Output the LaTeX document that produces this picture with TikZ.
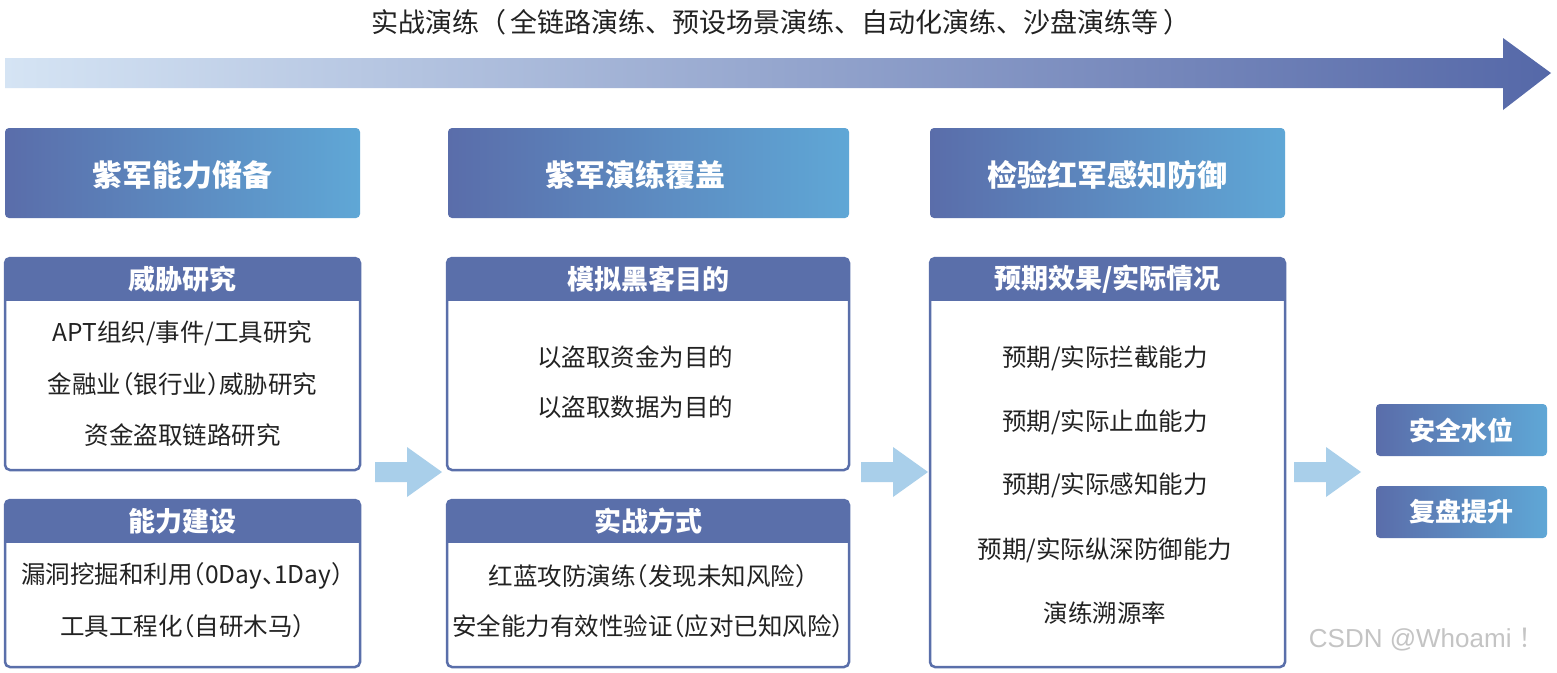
\documentclass[tikz,border=0pt]{standalone}
\usepackage{fontspec}
\setmainfont{Noto Sans CJK SC}
\newfontfamily\libsans{Liberation Sans}
\usetikzlibrary{calc}
\definecolor{hdr}{HTML}{5A6FAA}
\definecolor{gl}{HTML}{5A6DAA}
\definecolor{gr}{HTML}{5FA7D6}
\definecolor{al}{HTML}{D5E4F4}
\definecolor{ar}{HTML}{5568A8}
\definecolor{sa}{HTML}{A9CFEA}
\definecolor{txt}{HTML}{222222}
\definecolor{wm}{HTML}{C4C4C4}
\newcommand{\mypanel}[6]{%
  \begin{scope}
    \clip[rounded corners=5pt] (#1,#2) rectangle (#3,#4);
    \fill[band] (#1,#2) rectangle (#3,#2+43);
  \end{scope}
  \draw[panel] (#1,#2) rectangle (#3,#4);
  \node[bandtxt] (#5) at ({(#1+#3)/2},#2+21) {#6};
}
\begin{document}
\begin{tikzpicture}[x=1pt,y=-1pt,
  title/.style={text=txt,font=\fontsize{27}{30}\selectfont,inner sep=0pt},
  gradbox/.style={rounded corners=4pt,left color=gl,right color=gr,draw=none},
  gradtxt/.style={text=white,font=\fontsize{30}{34}\selectfont\bfseries,inner sep=0pt},
  smalltxt/.style={text=white,font=\fontsize{26}{30}\selectfont\bfseries,inner sep=0pt},
  panel/.style={draw=hdr,line width=2.5pt,rounded corners=5pt},
  band/.style={fill=hdr},
  bandtxt/.style={text=white,font=\fontsize{27}{30}\selectfont\bfseries,inner sep=0pt},
  body/.style={text=txt,font=\fontsize{24.5}{28}\selectfont\addfontfeatures{RawFeature=+halt},inner sep=0pt},
  blk/.style={fill=sa},
  blockarrow/.pic={\fill[blk] (0,-10) -- (32,-10) -- (32,-25) -- (67,0) -- (32,25) -- (32,10) -- (0,10) -- cycle;}
]
\useasboundingbox (0,0) rectangle (1557,672);
\fill[white] (0,0) rectangle (1557,672);

% title and big arrow
\node[title] (title) at (781,22) {实战演练（\,全链路演练、预设场景演练、自动化演练、沙盘演练等\,）};
\shade[left color=al,right color=ar] (5,58) -- (1503,58) -- (1503,38) -- (1551,73) -- (1503,110) -- (1503,88) -- (5,88) -- cycle;

% gradient header boxes
\path[gradbox] (5,128) rectangle (360,218);
\node[gradtxt] (h1) at (182.5,175) {紫军能力储备};
\path[gradbox] (448,128) rectangle (849,218);
\node[gradtxt] (h2) at (635,175) {紫军演练覆盖};
\path[gradbox] (930,128) rectangle (1285,218);
\node[gradtxt] (h3) at (1107.5,175) {检验红军感知防御};

% panels
\mypanel{5}{258}{360}{470}{p1a}{威胁研究}
\mypanel{5}{500}{360}{667}{p1b}{能力建设}
\mypanel{447}{258}{849}{470}{p2a}{模拟黑客目的}
\mypanel{447}{500}{849}{667}{p2b}{实战方式}
\mypanel{930}{258}{1285}{667}{p3}{预期效果/实际情况}

% panel texts
\node[body] (t11) at (182.5,333) {APT组织/事件/工具研究};
\node[body] (t12) at (182.5,384) {金融业（银行业）威胁研究};
\node[body] (t13) at (182.5,435) {资金盗取链路研究};
\node[body] (t14) at (182.5,576) {漏洞挖掘和利用（0Day、1Day）};
\node[body] (t15) at (182.5,626) {工具工程化（自研木马）};

\node[body] (t21) at (635,357) {以盗取资金为目的};
\node[body] (t22) at (635,407) {以盗取数据为目的};
\node[body] (t23) at (648,576) {红蓝攻防演练（发现未知风险）};
\node[body] (t24) at (648,626) {安全能力有效性验证（应对已知风险）};

\node[body] (t31) at (1105,358) {预期/实际拦截能力};
\node[body] (t32) at (1105,422) {预期/实际止血能力};
\node[body] (t33) at (1105,485) {预期/实际感知能力};
\node[body] (t34) at (1105,550) {预期/实际纵深防御能力};
\node[body] (t35) at (1105,613) {演练溯源率};

% block arrows
\pic (a1) at (375,472) {blockarrow};
\pic (a2) at (861,472) {blockarrow};
\pic (a3) at (1294,472) {blockarrow};

% right boxes
\path[gradbox] (1376,404) rectangle (1547,456);
\node[smalltxt] (r1) at (1461.5,430) {安全水位};
\path[gradbox] (1376,486) rectangle (1547,538);
\node[smalltxt] (r2) at (1461.5,512) {复盘提升};

% watermark
\node[text=wm,font=\fontsize{26}{30}\selectfont,inner sep=0pt,anchor=east] (wmk) at (1545,640) {{\libsans CSDN @Whoami }！};
\end{tikzpicture}
\end{document}
